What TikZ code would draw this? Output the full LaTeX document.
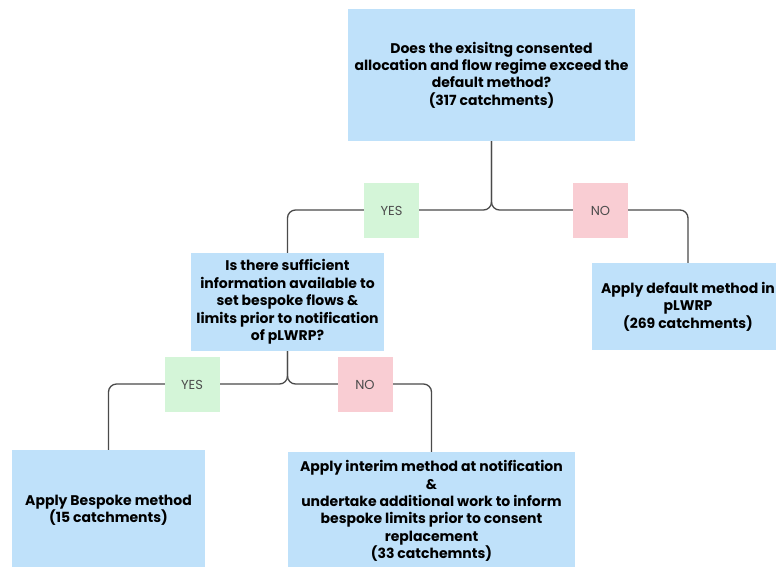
\documentclass[tikz,border=0pt]{standalone}
\usepackage{fontspec}
\setmainfont{Poppins}
\usetikzlibrary{calc}
\definecolor{boxblue}{HTML}{BFE1FA}
\definecolor{yesgreen}{HTML}{D4F5D8}
\definecolor{nopink}{HTML}{F9CDD3}
\definecolor{linegray}{HTML}{4A4A4A}
\begin{document}
\begin{tikzpicture}[x=1pt,y=-1pt,font=\fontsize{13}{17.4}\selectfont,
  question/.style={fill=boxblue,align=center,inner sep=0pt,font=\fontsize{14}{17.4}\selectfont\bfseries},
  answer/.style={fill=#1,minimum width=55pt,minimum height=55pt,inner sep=0pt,text=black!70},
  link/.style={draw=linegray,line width=1.3pt,rounded corners=8pt}]
\useasboundingbox (0,0) rectangle (776,566);

\begin{scope}
\node[question,minimum width=287pt,minimum height=132pt] (q1) at (491.5,75) {Does the exisitng consented\\allocation and flow regime exceed the\\default method?\\(317 catchments)};
\node[question,minimum width=193pt,minimum height=98pt] (q2) at (287.5,302) {Is there sufficient\\information available to\\set bespoke flows \&\\limits prior to notification\\of pLWRP?};
\node[question,minimum width=192pt,minimum height=87pt] (dflt) at (688,306.5) {Apply default method in\\pLWRP\\(269 catchments)};
\node[question,minimum width=193pt,minimum height=120pt] (bspk) at (108.5,510) {Apply Bespoke method\\(15 catchments)};
\node[question,minimum width=287pt,minimum height=118pt] (intr) at (431.5,511) {Apply interim method at notification\\\&\\ undertake additional work to inform\\bespoke limits prior to consent\\replacement\\(33 catchemnts)};

\coordinate (s1) at (q1.south |- 0,210);
\coordinate (s2) at (q2.south |- 0,384);

\draw[link] (q1.south) |- (q2.north |- s1) -- (q2.north);
\draw[link] (q1.south) |- (dflt.north |- s1) -- (dflt.north);
\draw[link] (q2.south) |- (bspk.north |- s2) -- (bspk.north);
\draw[link] (q2.south) |- (intr.north |- s2) -- (intr.north);

\node[answer=yesgreen] (yes1) at (391.5,210.5) {YES};
\node[answer=nopink] (no1) at (600.5,210.5) {NO};
\node[answer=yesgreen] (yes2) at (192,384.5) {YES};
\node[answer=nopink] (no2) at (365,384.5) {NO};
\end{scope}

\end{tikzpicture}
\end{document}
